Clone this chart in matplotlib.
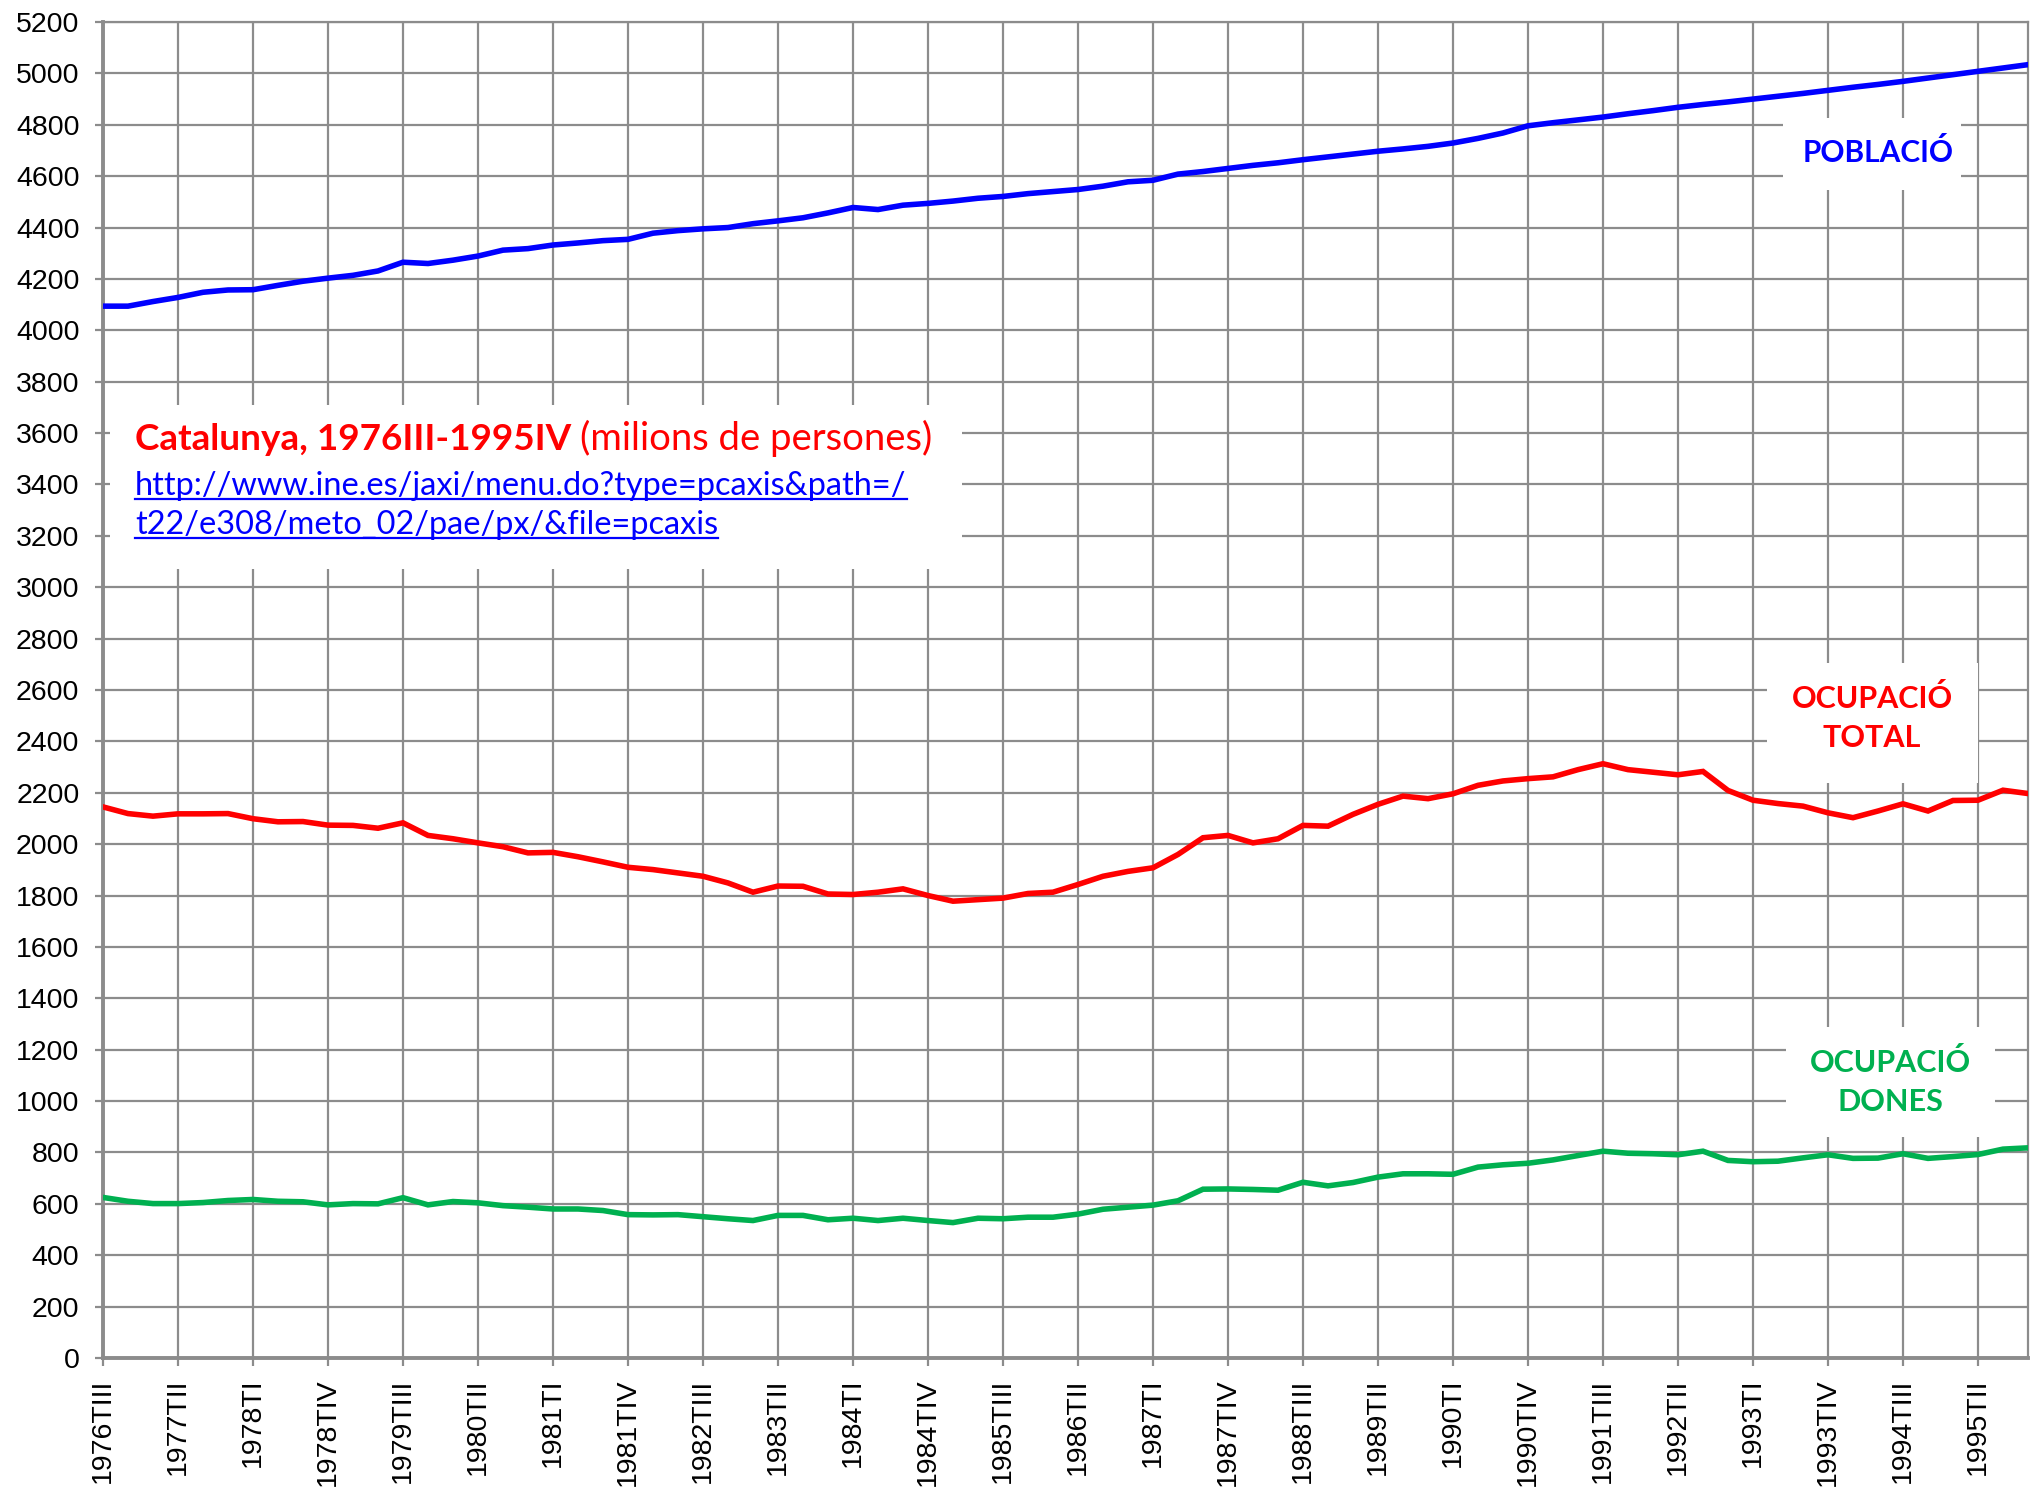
import matplotlib
matplotlib.use("Agg")
import matplotlib.pyplot as plt
from matplotlib.lines import Line2D
from matplotlib.patches import Rectangle

# ---------------- data ----------------
years_q = [(y, q) for y in range(1976, 1996) for q in ["I", "II", "III", "IV"]][2:]
quarters = [f"{y}T{q}" for y, q in years_q]  # 1976TIII .. 1995TIV (78)

tick_labels = ["1976TIII", "1977TII", "1978TI", "1978TIV", "1979TIII", "1980TII",
               "1981TI", "1981TIV", "1982TIII", "1983TII", "1984TI", "1984TIV",
               "1985TIII", "1986TII", "1987TI", "1987TIV", "1988TIII", "1989TII",
               "1990TI", "1990TIV", "1991TIII", "1992TII", "1993TI", "1993TIV",
               "1994TIII", "1995TII"]

poblacio = [4094, 4094, 4112, 4128, 4148, 4157, 4158, 4175, 4191, 4203,
            4214, 4231, 4265, 4260, 4273, 4289, 4312, 4318, 4332, 4340,
            4349, 4354, 4378, 4388, 4395, 4400, 4415, 4426, 4438, 4457,
            4478, 4470, 4487, 4494, 4503, 4514, 4521, 4532, 4540, 4548,
            4561, 4578, 4584, 4608, 4618, 4630, 4642, 4652, 4664, 4675,
            4686, 4697, 4706, 4716, 4729, 4747, 4768, 4796, 4808, 4819,
            4830, 4843, 4855, 4868, 4879, 4889, 4900, 4911, 4922, 4934,
            4946, 4957, 4969, 4982, 4995, 5008, 5021, 5034]

ocupacio_total = [2145, 2119, 2109, 2118, 2118, 2119, 2099, 2087, 2088, 2074,
                  2073, 2062, 2083, 2034, 2021, 2005, 1990, 1966, 1968, 1951,
                  1931, 1910, 1901, 1888, 1875, 1849, 1813, 1837, 1836, 1806,
                  1804, 1813, 1826, 1800, 1778, 1784, 1790, 1808, 1813, 1843,
                  1875, 1894, 1908, 1960, 2025, 2034, 2005, 2021, 2073, 2070,
                  2116, 2155, 2187, 2177, 2196, 2229, 2246, 2255, 2262, 2290,
                  2313, 2290, 2280, 2270, 2283, 2209, 2171, 2158, 2148, 2122,
                  2103, 2129, 2157, 2129, 2170, 2171, 2210, 2197]

ocupacio_dones = [625, 610, 601, 601, 605, 613, 617, 610, 608, 596,
                  601, 600, 624, 596, 609, 604, 593, 587, 580, 580,
                  574, 558, 557, 558, 550, 542, 535, 555, 555, 538,
                  544, 535, 544, 535, 527, 544, 542, 548, 548, 560,
                  579, 587, 595, 612, 657, 658, 656, 653, 684, 670,
                  683, 704, 717, 717, 715, 743, 752, 758, 771, 788,
                  805, 797, 795, 791, 805, 769, 764, 766, 779, 791,
                  777, 778, 795, 777, 784, 792, 813, 818]

y_ticks = list(range(0, 5201, 200))

# ---------------- figure ----------------
W, H = 2038, 1488
fig = plt.figure(figsize=(W / 100, H / 100), dpi=100)
L, R, T, B = 103, 2028, 22, 1358
ax = fig.add_axes([L / W, 1 - B / H, (R - L) / W, (B - T) / H])

x = list(range(len(quarters)))
lw = 4.0
ax.plot(x, poblacio, color="#0000FF", lw=lw, zorder=3, solid_joinstyle="miter")
ax.plot(x, ocupacio_total, color="#FF0000", lw=lw, zorder=3, solid_joinstyle="miter")
ax.plot(x, ocupacio_dones, color="#00B050", lw=lw, zorder=3, solid_joinstyle="miter")

ax.set_xlim(0, len(quarters) - 1)
ax.set_ylim(0, 5200)
ax.set_yticks(y_ticks)
ax.set_yticklabels([str(v) for v in y_ticks])
tick_pos = [quarters.index(t) for t in tick_labels]
ax.set_xticks(tick_pos)
ax.set_xticklabels(tick_labels, rotation=90)

grid_c = "#8c8c8c"
ax.grid(True, color=grid_c, lw=1.6, zorder=0)
ax.set_axisbelow(True)
for s in ["left", "bottom"]:
    ax.spines[s].set_color(grid_c)
    ax.spines[s].set_linewidth(2.8)
for s in ["right", "top"]:
    ax.spines[s].set_color(grid_c)
    ax.spines[s].set_linewidth(1.6)

tick_font = "Liberation Sans"
ax.tick_params(axis="y", length=6, width=1.6, color=grid_c, pad=11,
               labelsize=20.5)
ax.tick_params(axis="x", length=6, width=1.6, color=grid_c, pad=9,
               labelsize=20.5)
for lab in ax.get_xticklabels() + ax.get_yticklabels():
    lab.set_fontfamily(tick_font)
    lab.set_color("black")

# ---------------- annotation boxes ----------------
def fx(px):
    return (px - L) / (R - L)

def fy(py):
    return (B - py) / (B - T)

def white_box(x0, y0, x1, y1):
    ax.add_patch(Rectangle((fx(x0), fy(y1)), fx(x1) - fx(x0), fy(y0) - fy(y1),
                           transform=ax.transAxes, facecolor="white",
                           edgecolor="none", zorder=2))

ann_font = ["Lato", "DejaVu Sans"]

white_box(110, 405, 962, 569)
white_box(1783, 118, 1961, 190)
white_box(1767, 663, 1978, 783)
white_box(1786, 1027, 1995, 1137)

t1 = ax.text(fx(135), fy(450), "Catalunya, 1976III-1995IV", transform=ax.transAxes,
             color="#FF0000", fontsize=26.6, fontweight="bold", family=ann_font,
             va="baseline", ha="left", zorder=5)
u1 = ax.text(fx(135), fy(495), "http://www.ine.es/jaxi/menu.do?type=pcaxis&path=/",
             transform=ax.transAxes, color="#0000FF", fontsize=23.4, family=ann_font,
             va="baseline", ha="left", zorder=5)
u2 = ax.text(fx(135), fy(534), "t22/e308/meto_02/pae/px/&file=pcaxis",
             transform=ax.transAxes, color="#0000FF", fontsize=23.4, family=ann_font,
             va="baseline", ha="left", zorder=5)

ax.text(fx(1878), fy(153), "POBLACIÓ", transform=ax.transAxes, color="#0000FF",
        fontsize=21.5, fontweight="bold", family=ann_font, ha="center", va="center",
        zorder=5)
ax.text(fx(1872), fy(718), "OCUPACIÓ\nTOTAL", transform=ax.transAxes, color="#FF0000",
        fontsize=22, fontweight="bold", family=ann_font, ha="center", va="center",
        linespacing=1.5, zorder=5)
ax.text(fx(1890), fy(1082), "OCUPACIÓ\nDONES", transform=ax.transAxes, color="#00B050",
        fontsize=22, fontweight="bold", family=ann_font, ha="center", va="center",
        linespacing=1.5, zorder=5)

fig.canvas.draw()
renderer = fig.canvas.get_renderer()
bb1 = t1.get_window_extent(renderer)
x_after = ax.transAxes.inverted().transform((bb1.x1 + 9, bb1.y0))[0]
ax.text(x_after, fy(450), "(milions de persones)", transform=ax.transAxes,
        color="#FF0000", fontsize=27.5, family=ann_font, va="baseline", ha="left",
        zorder=5)

for u in (u1, u2):
    bb = u.get_window_extent(renderer)
    base = ax.transAxes.transform((0, u.get_position()[1]))[1]
    yline = base - 4
    fig.add_artist(Line2D([bb.x0 / W, bb.x1 / W], [yline / H, yline / H],
                          color="#0000FF", lw=1.6, zorder=6))

fig.savefig("out.png", dpi=100, facecolor="white")
